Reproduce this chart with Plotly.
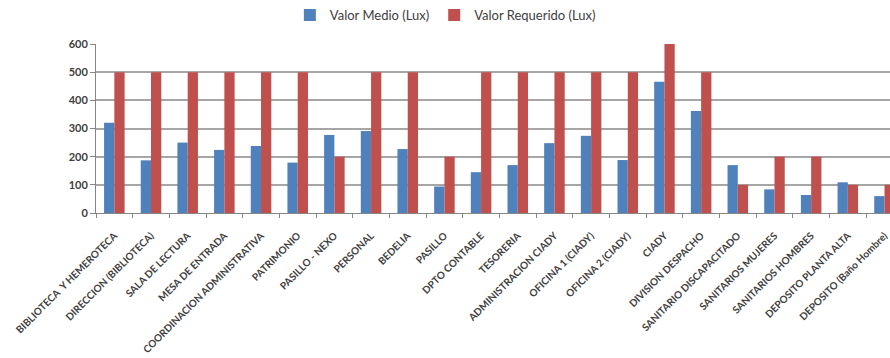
import plotly.graph_objects as go

# Illuminance survey per room: measured average vs. required level (lux)
categorias = [
    "BIBLIOTECA  Y HEMEROTECA",
    "DIRECCION (BIBLIOTECA)",
    "SALA DE LECTURA",
    "MESA DE ENTRADA",
    "COORDINACION ADMINISTRATIVA",
    "PATRIMONIO",
    "PASILLO - NEXO",
    "PERSONAL",
    "BEDELIA",
    "PASILLO",
    "DPTO CONTABLE",
    "TESORERIA",
    "ADMINISTRACION CIADY",
    "OFICINA 1 (CIADY)",
    "OFICINA 2 (CIADY)",
    "CIADY",
    "DIVISION DESPACHO",
    "SANITARIO DISCAPACITADO",
    "SANITARIOS MUJERES",
    "SANITARIOS HOMBRES",
    "DEPOSITO PLANTA ALTA",
    "DEPOSITO (Baño Hombre)",
]

valor_medio = [320, 187, 250, 224, 238, 179, 277, 291, 227, 94, 145,
               170, 248, 274, 188, 466, 362, 170, 84, 64, 109, 60]

valor_requerido = [500, 500, 500, 500, 500, 500, 200, 500, 500, 200, 500,
                   500, 500, 500, 500, 600, 500, 100, 200, 200, 100, 100]

y_ticks = [0, 100, 200, 300, 400, 500, 600]

AZUL = "#4F81BD"
ROJO = "#C0504D"
FUENTE = "Lato, Carlito, 'Open Sans', sans-serif"

fig = go.Figure()
fig.add_trace(go.Bar(
    name="Valor Medio (Lux)", x=categorias, y=valor_medio,
    marker=dict(color=AZUL, line=dict(width=0)),
))
fig.add_trace(go.Bar(
    name="Valor Requerido (Lux)", x=categorias, y=valor_requerido,
    marker=dict(color=ROJO, line=dict(width=0)),
))

fig.update_layout(
    width=890, height=358,
    margin=dict(l=96, r=0, t=44, b=145),
    paper_bgcolor="white", plot_bgcolor="white",
    barmode="group", bargap=0.44, bargroupgap=0,
    font=dict(family=FUENTE, color="#404040"),
    legend=dict(
        orientation="h", x=0.44, xanchor="center",
        y=1.0, yanchor="top", yref="container",
        font=dict(size=13, color="#404040"),
        itemwidth=30, tracegroupgap=0,
    ),
    showlegend=True,
)

fig.update_xaxes(
    type="category",
    range=[-0.5, 21.15],
    tickangle=-45,
    tickson="boundaries",
    ticks="outside", ticklen=4, tickcolor="#868686",
    showline=True, linecolor="#868686", linewidth=1,
    showgrid=False,
    ticklabelstandoff=12,
    tickfont=dict(size=10, color="#404040", weight="bold"),
)
fig.update_yaxes(
    range=[0, 600],
    tickvals=y_ticks,
    ticks="outside", ticklen=5, tickcolor="#868686",
    showline=True, linecolor="#868686", linewidth=1,
    showgrid=True, gridcolor="#A6A6A6", gridwidth=1.5,
    zeroline=False,
    tickfont=dict(size=11, color="#404040", weight="bold"),
)

fig.write_html("out.html")
